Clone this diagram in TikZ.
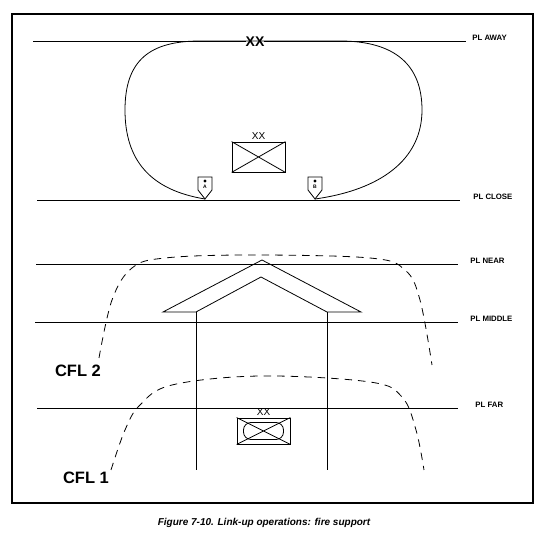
\documentclass[tikz,border=0pt]{standalone}
\usepackage{fontspec}
\setmainfont{Liberation Sans}
\usetikzlibrary{positioning,calc}

\begin{document}
\begin{tikzpicture}[x=1pt,y=-1pt,line width=0.8pt,
  pllab/.style={font=\fontsize{7.8}{8}\selectfont\bfseries,anchor=west,inner sep=0pt},
  cfllab/.style={font=\fontsize{16.5}{18}\selectfont\bfseries,inner sep=0pt},
  cfl/.style={dash pattern=on 7.5pt off 6pt},
  unitxx/.style={font=\fontsize{10}{11}\selectfont,inner sep=0pt}]
  \useasboundingbox (0,0) rectangle (550,534);
  \draw[line width=2pt] (12,14) rectangle (533,503);
  % phase lines
  \foreach \y/\lab/\xa/\xb/\xl in {41/AWAY/33/466/472,200/CLOSE/37/460/473,264/NEAR/36/458/470,322/MIDDLE/35/458/470,408/FAR/37/458/475} {
    \coordinate (w\lab) at (\xa,\y);
    \coordinate (e\lab) at (\xb,\y);
    \node[pllab] (pl\lab) at (\xl,\y-3) {PL \lab};
    \draw (w\lab) -- (e\lab);
  }
  \node[font=\fontsize{14}{15}\selectfont\bfseries,fill=white,inner sep=0pt] (divxx) at (255,42) {XX};
  % link-up units on PL CLOSE
  \foreach \x/\n/\l in {205/a/A,315/b/B} {
    \draw[fill=white] (\x-7,177) -- (\x+7,177) -- (\x+7,190) -- (\x,199) -- (\x-7,190) -- cycle;
    \coordinate (tip\n) at (\x,199);
    \fill (\x,181) circle (1.6pt);
    \node[font=\fontsize{5}{5}\selectfont\bfseries,inner sep=0pt] at (\x,186.5) {\l};
  }
  \draw (tipa) .. controls (150,190) and (125,160) .. (125,110)
    .. controls (125,60) and (150,41) .. (200,41) -- (340,41)
    .. controls (395,41) and (422,65) .. (422,110)
    .. controls (422,160) and (380,190) .. (tipb);
  \node[draw,minimum width=53pt,minimum height=30pt,inner sep=0pt] (hqbox) at (258.5,157) {};
  \draw (hqbox.north west) -- (hqbox.south east) (hqbox.north east) -- (hqbox.south west);
  \node[unitxx,above=1.5pt of hqbox] (hqxx) {XX};
  % axis of advance
  \coordinate (ol) at (163,312); \coordinate (oa) at (262,260); \coordinate (or) at (361,312);
  \coordinate (il) at (196,312); \coordinate (ia) at (261,277); \coordinate (ir) at (327,312);
  \draw (ol) -- (oa) -- (or) -- (ir) -- (ia) -- (il) -- cycle;
  \draw (il) -- (196,470) (ir) -- (327,470);
  % linkup force
  \node[draw,minimum width=53pt,minimum height=26pt,inner sep=0pt] (lubox) at (263.5,431) {};
  \draw (lubox.north west) -- (lubox.south east) (lubox.north east) -- (lubox.south west);
  \draw[rounded corners=7.5pt] ($(lubox.center)+(-20,-8.5)$) rectangle ($(lubox.center)+(20,8.5)$);
  \node[unitxx,above=1.5pt of lubox] (luxx) {XX};
  % coordinated fire lines
  \draw[cfl] plot[smooth,tension=0.6] coordinates {(99,358) (112,300) (132,268) (165,258) (250,255) (370,258) (405,270) (420,300) (432,365)};
  \draw[cfl] plot[smooth,tension=0.6] coordinates {(111,470) (125,430) (140,405) (172,385) (260,376) (370,382) (402,397) (416,430) (424,470)};
  \node[cfllab] (cfl2) at (78,371) {CFL 2};
  \node[cfllab] (cfl1) at (86,478) {CFL 1};
  \node[font=\fontsize{10}{12}\selectfont\bfseries\itshape,inner sep=0pt] (caption) at (264,523) {Figure 7-10. Link-up operations: fire support};
\end{tikzpicture}
\end{document}
